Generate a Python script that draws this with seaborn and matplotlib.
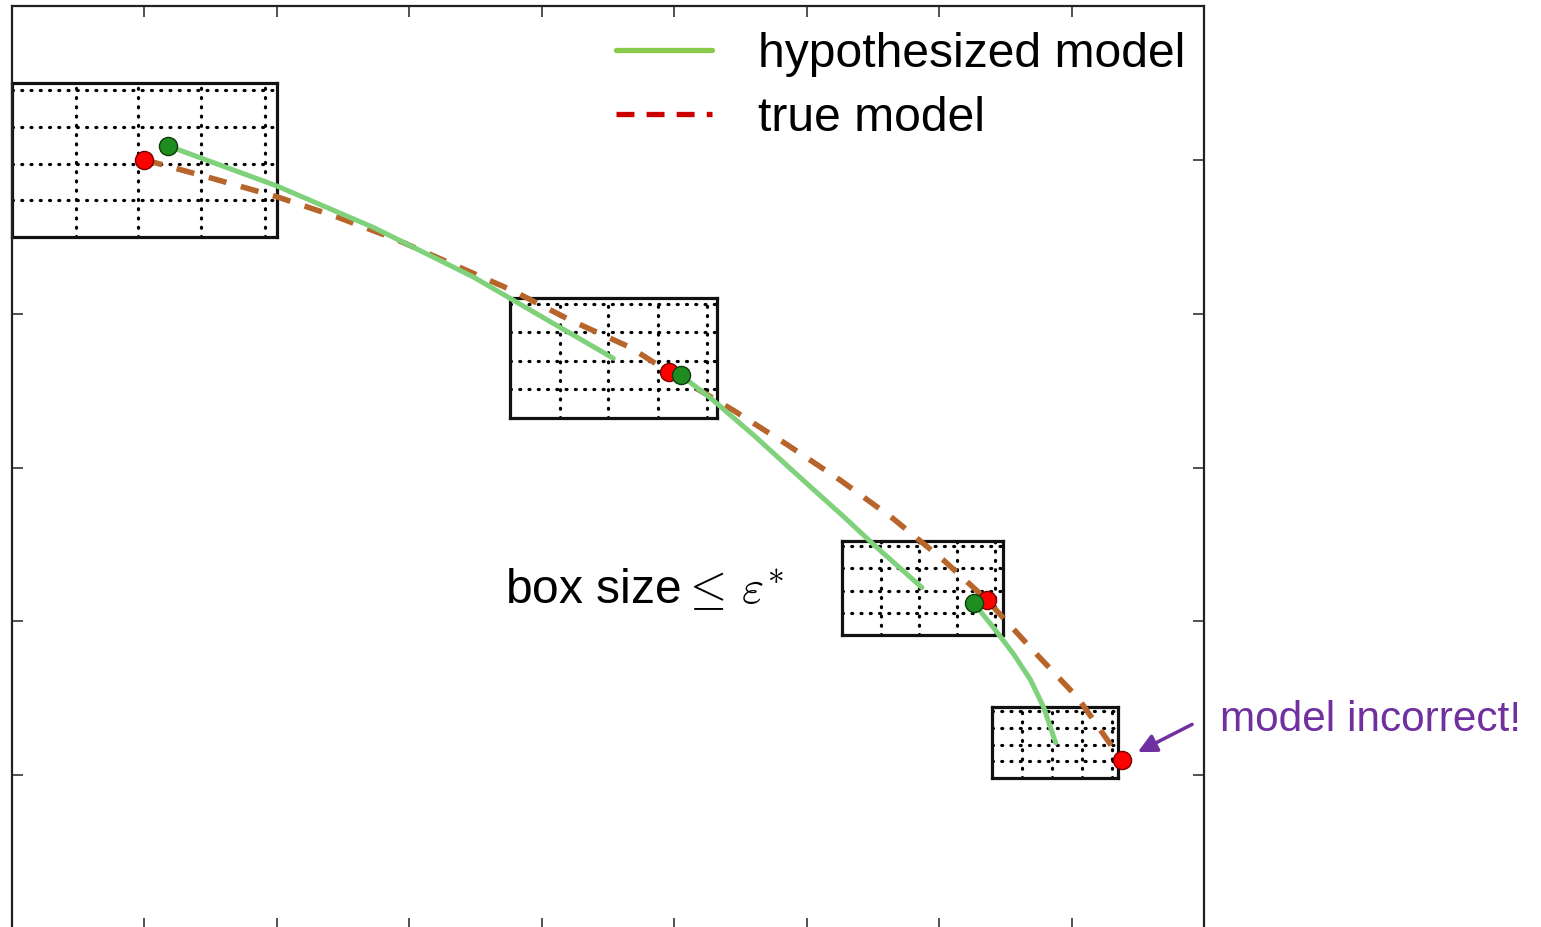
import matplotlib
matplotlib.use("Agg")
import matplotlib.pyplot as plt
from matplotlib.lines import Line2D
import pandas as pd
import seaborn as sns

# values, in tick units (x: 0-9, y: 0-6)

# true model (dashed curve)
true_x = [1.00, 1.51, 2.00, 2.45, 2.88, 3.33, 3.78, 4.21, 4.67, 4.96,
          5.45, 5.85, 6.25, 6.65, 7.03, 7.36, 7.71, 8.05, 8.31, 8.38]
true_y = [5.00, 4.88, 4.76, 4.63, 4.49, 4.32, 4.15, 3.96, 3.78, 3.62,
          3.37, 3.15, 2.92, 2.67, 2.40, 2.14, 1.81, 1.50, 1.18, 1.10]

# hypothesized model, one piece per refit
hyp_seg = [1, 1, 1, 1, 1, 1,
           2, 2, 2, 2, 2, 2, 2,
           3, 3, 3, 3, 3, 3]
hyp_x = [1.18, 2.00, 2.73, 3.48, 3.76, 4.54,
         5.05, 5.29, 5.60, 5.97, 6.28, 6.53, 6.87,
         7.26, 7.41, 7.56, 7.69, 7.79, 7.88]
hyp_y = [5.09, 4.83, 4.56, 4.24, 4.10, 3.71,
         3.60, 3.44, 3.21, 2.92, 2.68, 2.48, 2.22,
         2.12, 1.96, 1.79, 1.62, 1.44, 1.21]

# points on each model
true_pts_x = [1.00, 4.96, 7.36, 8.38]
true_pts_y = [5.00, 3.62, 2.14, 1.10]
hyp_pts_x = [1.18, 5.05, 7.26]
hyp_pts_y = [5.09, 3.60, 2.12]

# boxes
box_x0 = [0.00, 3.76, 6.27, 7.40]
box_x1 = [2.00, 5.32, 7.48, 8.35]
box_y0 = [4.50, 3.32, 1.91, 0.98]
box_y1 = [5.50, 4.10, 2.52, 1.44]

legend_labels = ["hypothesized model", "true model"]
box_label = r"box size$\leq\,\varepsilon^{*}$"
note_label = "model incorrect!"

sns.set_theme(style="white")
plt.rcParams["font.family"] = ["Liberation Sans", "DejaVu Sans"]
plt.rcParams["mathtext.fontset"] = "cm"

fig = plt.figure(figsize=(15.41, 9.27), dpi=100)
ax = fig.add_axes([12 / 1541, -2 / 927, 1192 / 1541, 923 / 927])
ax.set_xlim(0, 9)
ax.set_ylim(0, 6)

# boxes with their dotted grids
grid_frac = [0.24, 0.475, 0.715, 0.955]
for x0, x1, y0, y1 in zip(box_x0, box_x1, box_y0, box_y1):
    ins = ax.inset_axes([x0, y0, x1 - x0, y1 - y0], transform=ax.transData)
    ins.set_zorder(1)
    ins.set_xlim(0, 1)
    ins.set_ylim(0, 1)
    ins.set_xticks(grid_frac)
    ins.set_yticks(grid_frac)
    ins.tick_params(length=0, labelbottom=False, labelleft=False)
    ins.grid(True, color="black", linestyle=(0, (0.3, 2.6)), linewidth=2.3,
             dash_capstyle="round")
    for sp in ins.spines.values():
        sp.set_color("#111111")
        sp.set_linewidth(2.3)
        sp.set_visible(True)

df_true = pd.DataFrame({"x": true_x, "y": true_y})
df_hyp = pd.DataFrame({"x": hyp_x, "y": hyp_y, "seg": hyp_seg})

sns.lineplot(data=df_true, x="x", y="y", sort=False, estimator=None, ax=ax,
             color="#b8652c", linewidth=4.0, linestyle=(0, (3.3, 2.7)), zorder=3)
sns.lineplot(data=df_hyp, x="x", y="y", units="seg", sort=False, estimator=None,
             ax=ax, color="#7fd17b", linewidth=3.6, zorder=4)

sns.scatterplot(x=true_pts_x, y=true_pts_y, ax=ax, s=170, color="#ff0000",
                edgecolor="#7a0000", linewidth=1.0, zorder=5)
sns.scatterplot(x=hyp_pts_x, y=hyp_pts_y, ax=ax, s=170, color="#1f8c1f",
                edgecolor="#0b3d0b", linewidth=1.0, zorder=6)

# legend
handles = [Line2D([], [], color="#8bc94a", linewidth=3.8),
           Line2D([], [], color="#cc0000", linewidth=3.8, linestyle=(0, (3.4, 2.3)))]
ax.legend(handles, legend_labels, loc="upper left", bbox_to_anchor=(0.5067, 0.972),
          frameon=False, fontsize=34.6, handlelength=2.0, handletextpad=0.95,
          labelspacing=0.4, borderpad=0, borderaxespad=0, labelcolor="black")

ax.text(3.72, 2.20, box_label, fontsize=34.5, va="center", ha="left", color="black")

ax.annotate("", xy=(8.50, 1.15), xytext=(8.91, 1.33),
            arrowprops=dict(arrowstyle="-|>", color="#7030a0", lw=2.5,
                            mutation_scale=28, shrinkA=0, shrinkB=0),
            annotation_clip=False)
ax.text(9.12, 1.36, note_label, fontsize=30.5, color="#7030a0",
        va="center", ha="left", clip_on=False)

ax.set_xticks(range(1, 9))
ax.set_yticks(range(1, 6))
ax.tick_params(direction="in", length=8, width=1.2, color="#333333",
               top=True, right=True, bottom=True, left=True,
               labelbottom=False, labelleft=False)
ax.set_xlabel("")
ax.set_ylabel("")
for name, sp in ax.spines.items():
    sp.set_color("#222222")
    sp.set_linewidth(1.6)
ax.spines["bottom"].set_visible(False)

fig.savefig("out.png", dpi=100)
